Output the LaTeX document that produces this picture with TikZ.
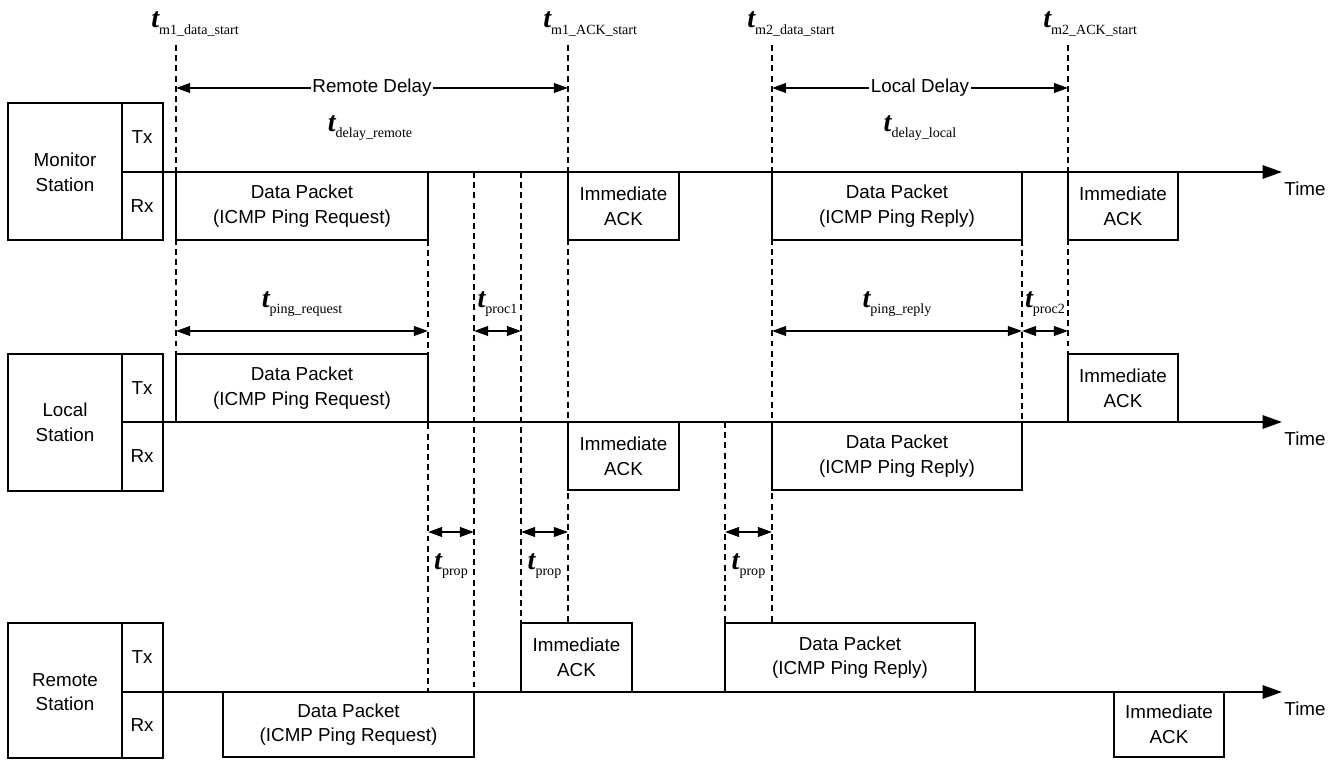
\documentclass[tikz,border=0pt]{standalone}
\usepackage{fontspec}
\setmainfont{Liberation Sans}
\newfontfamily\tmsfont{Liberation Serif}
\usetikzlibrary{arrows.meta}
\tikzset{
  stbox/.style={draw,line width=1pt},
  pkt/.style={draw,fill=white,line width=1pt},
  ptxt/.style={font=\fontsize{10.7}{14}\selectfont,align=center,inner sep=0pt},
  taxis/.style={-{Triangle[length=11pt,width=7.5pt]},line width=1.3pt},
  vdash/.style={dash pattern=on 3.4pt off 2.4pt,line width=0.9pt},
  darr/.style={{Triangle[length=8pt,width=5.5pt]}-{Triangle[length=8pt,width=5.5pt]},line width=1pt},
  tlbl/.style={inner sep=0pt},
}
\newcommand{\tsym}[1]{{\tmsfont\fontsize{16}{16}\selectfont\bfseries\itshape t}\raisebox{-3.5pt}{\tmsfont\fontsize{8}{8}\selectfont #1}}

\begin{document}
\begin{tikzpicture}[x=0.02cm,y=-0.02cm]
  \useasboundingbox (0,0) rectangle (1329,760);
  % stations
  \foreach \ty/\ay/\by/\lab in {103/172/240/Monitor,354/422/491/Local,623/692/758/Remote}{
    \draw[stbox] (8,\ty) rectangle (163,\by);
    \draw[stbox] (122,\ty) -- (122,\by) (122,\ay) -- (163,\ay);
    \node[ptxt] (st\lab) at (65,\ay) {\lab\\Station};
    \node[ptxt] (tx\lab) at (142,{(\ty+\ay)/2}) {Tx};
    \node[ptxt] (rx\lab) at (142,{(\ay+\by)/2}) {Rx};}
  % time marks
  \foreach \x/\ya/\yb in {176/45/354,428/240/692,474/172/692,521/172/623,568/45/623,725/422/623,772/45/623,1022/240/422,1068/45/354}
    \draw[vdash] (\x,\ya) -- (\x,\yb);
  % packets
  \foreach \xa/\ya/\xb/\yb/\t [count=\i] in {
    176/172/428/240/{Data Packet\\(ICMP Ping Request)},568/172/679/240/{Immediate\\ACK},
    772/172/1022/240/{Data Packet\\(ICMP Ping Reply)},1068/172/1178/240/{Immediate\\ACK},
    176/354/428/422/{Data Packet\\(ICMP Ping Request)},1068/354/1178/422/{Immediate\\ACK},
    568/422/679/490/{Immediate\\ACK},772/422/1022/490/{Data Packet\\(ICMP Ping Reply)},
    521/623/632/692/{Immediate\\ACK},725/623/975/692/{Data Packet\\(ICMP Ping Reply)},
    223/692/474/757/{Data Packet\\(ICMP Ping Request)},1114/692/1224/757/{Immediate\\ACK}}{
    \draw[pkt] (\xa,\ya) rectangle (\xb,\yb);
    \node[ptxt] (pk\i) at ({(\xa+\xb)/2},{(\ya+\yb)/2}) {\t};}
  % time axes
  \foreach \ay/\nm in {172/mon,422/loc,692/rem}{
    \draw[taxis] (163,\ay) -- (1282,\ay);
    \node[ptxt] (time\nm) at (1305,\ay+17) {Time};}
  % start labels
  \foreach \x/\s in {176/m1\_data\_start,568/m1\_ACK\_start,772/m2\_data\_start,1068/m2\_ACK\_start}
    \node[tlbl,anchor=west] at (\x-25,24) {\tsym{\s}};
  % delays
  \draw[darr] (176,88) -- (568,88) node[midway,ptxt,fill=white,inner sep=1pt] (rdel) {Remote Delay};
  \draw[darr] (772,88) -- (1068,88) node[midway,ptxt,fill=white,inner sep=1pt] (ldel) {Local Delay};
  \node[tlbl] (trem) at (370,128) {\tsym{delay\_remote}};
  \node[tlbl] (tloc) at (920,128) {\tsym{delay\_local}};
  % durations
  \foreach \xa/\xb/\y/\ly/\s in {176/428/331/304/ping\_request,474/521/331/304/proc1,772/1022/331/304/ping\_reply,1022/1068/331/304/proc2,428/474/532/566/prop,521/568/532/566/prop,725/772/532/566/prop}{
    \draw[darr] (\xa,\y) -- (\xb,\y);
    \node[tlbl] at ({(\xa+\xb)/2},\ly) {\tsym{\s}};}
\end{tikzpicture}
\end{document}
